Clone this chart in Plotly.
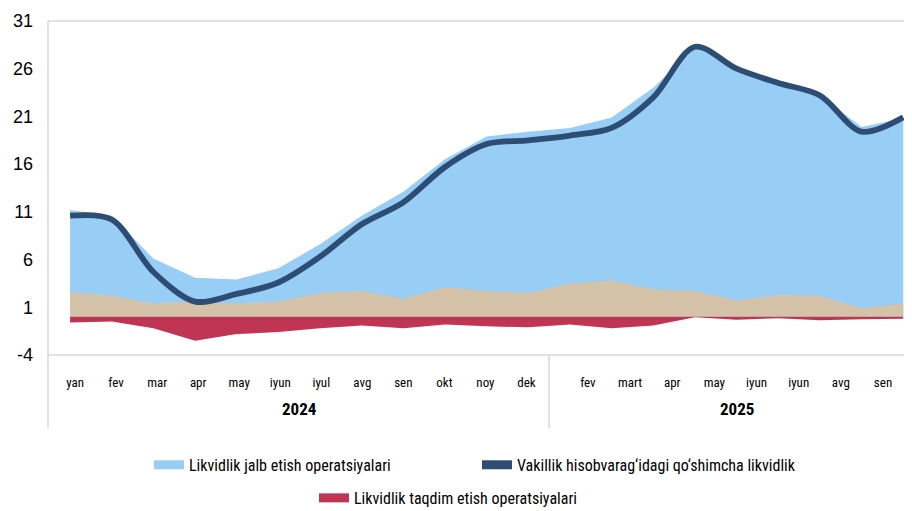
import plotly.graph_objects as go

# 21 months: yan 2024 .. sen 2025
idx = list(range(21))
jalb = [11.2, 10.6, 6.1, 4.1, 3.9, 5.1, 7.6, 10.6, 13.1, 16.5, 18.9, 19.4,
        19.8, 20.9, 24.0, 28.3, 26.2, 24.5, 23.2, 19.9, 20.8]
boshqa = [2.6, 2.2, 1.4, 1.6, 1.4, 1.6, 2.5, 2.7, 1.9, 3.1, 2.7, 2.5,
          3.5, 3.8, 2.9, 2.7, 1.7, 2.3, 2.2, 0.9, 1.4]
taqdim = [-0.6, -0.5, -1.2, -2.5, -1.8, -1.6, -1.2, -0.9, -1.2, -0.8, -1.0, -1.1,
          -0.8, -1.2, -0.9, -0.05, -0.3, -0.15, -0.35, -0.25, -0.2]
vakillik = [10.6, 10.2, 4.7, 1.6, 2.4, 3.6, 6.3, 9.7, 12.0, 15.7, 18.1, 18.5,
            19.0, 19.8, 23.0, 28.3, 26.0, 24.5, 23.2, 19.4, 20.9]

oylar_2024 = ["yan", "fev", "mar", "apr", "may", "iyun", "iyul", "avg", "sen", "okt", "noy", "dek"]
oylar_2025 = ["fev", "mart", "apr", "may", "iyun", "iyun", "avg", "sen"]
yillar = ["2024", "2025"]
y_ticks = [-4, 1, 6, 11, 16, 21, 26, 31]

# label slots on the category axis (slightly off the data points, as in the source)
tick_pos = [0.12 + 0.985 * i for i in range(12)] + [12.43 + 1.012 * i for i in range(8)]
tick_txt = oylar_2024 + oylar_2025

narrow = "Liberation Sans Narrow, Roboto Condensed, Roboto, sans-serif"
c_jalb, c_boshqa, c_taqdim, c_vak = "#98CEF5", "#D4C3A8", "#C03454", "#2E4D75"

fig = go.Figure()
fig.add_trace(go.Scatter(x=idx, y=jalb, fill="tozeroy", mode="none",
                         fillcolor=c_jalb, showlegend=False))
fig.add_trace(go.Scatter(x=idx, y=boshqa, fill="tozeroy", mode="none",
                         fillcolor=c_boshqa, showlegend=False))
fig.add_trace(go.Scatter(x=idx, y=taqdim, fill="tozeroy", mode="none",
                         fillcolor=c_taqdim, showlegend=False))
fig.add_trace(go.Scatter(x=idx, y=vakillik, mode="lines",
                         line=dict(color=c_vak, width=5.8, shape="spline", smoothing=0.9),
                         showlegend=False))

# legend swatches
fig.add_trace(go.Scatter(x=[None], y=[None], mode="lines", line=dict(color=c_jalb, width=9),
                         name="Likvidlik jalb etish operatsiyalari", legend="legend"))
fig.add_trace(go.Scatter(x=[None], y=[None], mode="lines", line=dict(color=c_vak, width=9),
                         name="Vakillik hisobvarag‘idagi qo‘shimcha likvidlik", legend="legend"))
fig.add_trace(go.Scatter(x=[None], y=[None], mode="lines", line=dict(color=c_taqdim, width=9),
                         name="Likvidlik taqdim etish operatsiyalari", legend="legend2"))

grid = "#D9D9D9"
shapes = [
    dict(type="line", xref="paper", yref="paper", x0=0, x1=1, y0=1, y1=1, line=dict(color=grid, width=1.5)),
    dict(type="line", xref="paper", yref="paper", x0=0, x1=1, y0=0, y1=0, line=dict(color=grid, width=1.5)),
    dict(type="line", xref="paper", yref="paper", x0=0, x1=0, y0=-0.22, y1=1, line=dict(color=grid, width=1.5)),
    dict(type="line", xref="x", yref="paper", x0=11.5, x1=11.5, y0=-0.22, y1=0, line=dict(color=grid, width=1.5)),
]

annotations = [
    dict(x=5.5, y=-0.198, xref="x", yref="paper", text="<b>" + yillar[0] + "</b>",
         showarrow=False, font=dict(size=17, family=narrow, color="#000")),
    dict(x=16, y=-0.198, xref="x", yref="paper", text="<b>" + yillar[1] + "</b>",
         showarrow=False, font=dict(size=17, family=narrow, color="#000")),
]

# page body adds an 8px offset, so margins are trimmed by 8
fig.update_layout(
    width=912, height=511,
    margin=dict(l=40, r=8, t=13, b=164, autoexpand=False),
    plot_bgcolor="white", paper_bgcolor="white",
    font=dict(family="Liberation Sans, Arial, sans-serif", color="#000"),
    xaxis=dict(range=[-0.53, 20.21], tickmode="array", tickvals=tick_pos, ticktext=tick_txt,
               showgrid=False, zeroline=False, ticks="", ticklabelstandoff=18, automargin=False,
               tickfont=dict(size=13, family=narrow)),
    yaxis=dict(range=[-4, 31], tickmode="array", tickvals=y_ticks, ticktext=[str(v) for v in y_ticks],
               showgrid=False, zeroline=False, automargin=False,
               ticks="", ticklabelstandoff=14, tickfont=dict(size=18)),
    shapes=shapes,
    annotations=annotations,
    legend=dict(orientation="h", x=(149 - 48) / 864, y=-0.329, xanchor="left", yanchor="middle",
                entrywidth=283, font=dict(size=16, family=narrow), bgcolor="rgba(0,0,0,0)"),
    legend2=dict(orientation="h", x=(314 - 48) / 864, y=-0.428, xanchor="left", yanchor="middle",
                 font=dict(size=16, family=narrow), bgcolor="rgba(0,0,0,0)"),
)

fig.write_html("out.html")
